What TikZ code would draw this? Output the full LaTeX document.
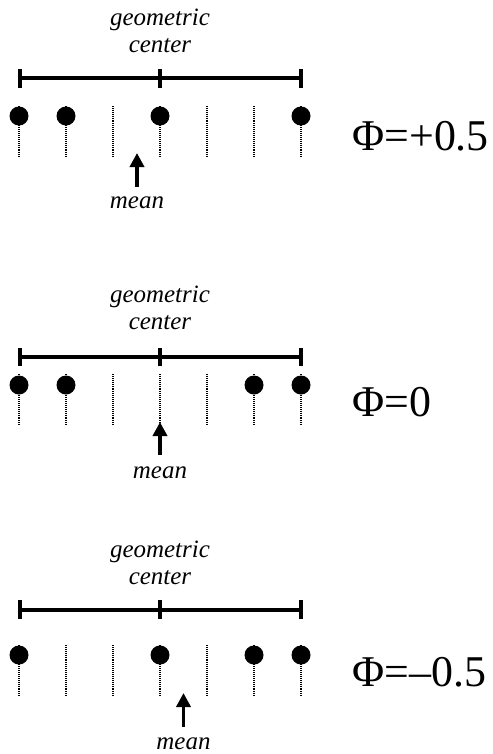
\documentclass[tikz,border=0pt]{standalone}
\usepackage{fontspec}
\setmainfont{Liberation Serif}
\usetikzlibrary{arrows.meta}

\tikzset{
  rule/.style={line width=2.3pt},
  tickmark/.style={line width=2.1pt},
  stem/.style={line width=0.8pt, dash pattern=on 0.55pt off 0.55pt},
  ball/.style={fill=black},
  meanarrow/.style={line width=2.1pt, -{Triangle[width=8pt,length=8pt]}},
  tag/.style={font=\fontsize{14.2pt}{15.3pt}\selectfont\itshape, align=center, inner sep=0pt},
  phase/.style={font=\fontsize{25pt}{27pt}\selectfont, anchor=west, inner sep=0pt}
}

\begin{document}
\begin{tikzpicture}[x=0.02cm, y=-0.02cm]
  \useasboundingbox (0,0) rectangle (493,754);

  % ══ PANEL 1: Phi = +0.5 ═══════════════════════════════════════
  \node[tag, anchor=south] (geo1) at (160,53) {geometric\\center};
  \draw[rule] (20,78) -- (301,78);
  \foreach \x in {20,160,301} \draw[tickmark] (\x,69) -- (\x,88);
  \foreach \x in {19,66,113,160,207,254,301} \draw[stem] (\x,106) -- (\x,158);
  \foreach \x in {19,66,160,301} \fill[ball] (\x,116) circle (9.5);
  \coordinate (tip1) at (137,153);
  \coordinate (base1) at (137,187);
  \draw[meanarrow] (base1) -- (tip1);
  \node[tag, anchor=base] (mean1) at (137,208) {mean};
  \node[phase] (phi1) at (352,136) {Φ=+0.5};

  % ══ PANEL 2: Phi = 0 ══════════════════════════════════════════
  \node[tag, anchor=south] (geo2) at (160,330) {geometric\\center};
  \draw[rule] (20,357) -- (301,357);
  \foreach \x in {20,160,301} \draw[tickmark] (\x,348) -- (\x,366);
  \foreach \x in {19,66,113,160,207,254,301} \draw[stem] (\x,374) -- (\x,426);
  \foreach \x in {19,66,254,301} \fill[ball] (\x,385) circle (9.5);
  \coordinate (tip2) at (160,422);
  \coordinate (base2) at (160,455);
  \draw[meanarrow] (base2) -- (tip2);
  \node[tag, anchor=base] (mean2) at (160,478) {mean};
  \node[phase] (phi2) at (352,402) {Φ=0};

  % ══ PANEL 3: Phi = -0.5 ═══════════════════════════════════════
  \node[tag, anchor=south] (geo3) at (160,585) {geometric\\center};
  \draw[rule] (20,610) -- (301,610);
  \foreach \x in {20,160,301} \draw[tickmark] (\x,600) -- (\x,619);
  \foreach \x in {19,66,113,160,207,254,301} \draw[stem] (\x,645) -- (\x,697);
  \foreach \x in {19,160,254,301} \fill[ball] (\x,655) circle (9.5);
  \coordinate (tip3) at (183.5,693);
  \coordinate (base3) at (183.5,727);
  \draw[meanarrow] (base3) -- (tip3);
  \node[tag, anchor=base] (mean3) at (183.5,749) {mean};
  \node[phase] (phi3) at (352,672) {Φ=–0.5};

\end{tikzpicture}
\end{document}
